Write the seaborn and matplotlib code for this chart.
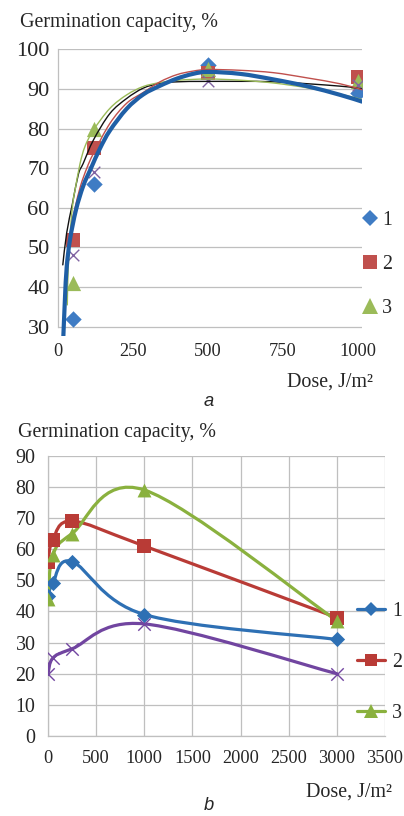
import numpy as np
import matplotlib
matplotlib.use("Agg")
import matplotlib.pyplot as plt
from matplotlib.path import Path
from matplotlib.patches import PathPatch
from matplotlib.lines import Line2D
import seaborn as sns

# ---- chart a: measured points ----
dose_a = [50, 120, 500, 1000]
germ_a1 = [32, 66, 96, 89]
germ_a2 = [52, 75, 94, 93]
germ_a3 = [41, 80, 95, 92]
germ_a4 = [48, 69, 92, 91]

# ---- chart a: trend curves ----
trend_a1_x = [17, 23, 29, 40, 60, 84, 110, 140, 173, 229, 284, 340, 396, 450, 500, 607, 718, 829, 940, 1013]
trend_a1_y = [26, 36.8, 45, 52, 59.5, 65.5, 70, 75, 79.5, 85, 88.6, 90.8, 92.6, 93.8, 94.3, 93.8, 92.4, 90.7, 88.5, 86.8]
trend_a2_x = [20, 27, 34, 45, 57, 75, 96, 118, 173, 229, 284, 340, 396, 450, 500, 607, 718, 829, 940, 1013]
trend_a2_y = [33, 42, 49.4, 55.5, 60, 65.5, 70, 73.7, 81.3, 86.4, 89.1, 91.8, 93.6, 94.5, 94.9, 94.7, 94.1, 92.8, 91.3, 89.8]
trend_a3_x = [31, 34, 42, 50, 57, 73, 90, 118, 173, 229, 284, 340, 400, 500, 607, 718, 829, 940, 1013]
trend_a3_y = [35.5, 45, 55, 61.5, 64.5, 71, 75.5, 79.6, 85.1, 88.5, 90.6, 91.6, 92.2, 92.5, 92.2, 91.5, 90.3, 88.7, 87.3]
trend_a4_x = [16, 29, 48, 68, 84, 118, 173, 229, 284, 340, 400, 500, 718, 940, 1013]
trend_a4_y = [45.6, 53.7, 61, 68.5, 71.2, 77.1, 83.8, 87.6, 90.2, 91.4, 91.8, 91.9, 91.8, 90.7, 90.0]

# ---- chart b ----
dose_b = [0, 50, 250, 1000, 3000]
germ_b1 = [45, 49, 56, 39, 31]
germ_b2 = [56, 63, 69, 61, 38]
germ_b3 = [44, 58, 65, 79, 37]
germ_b4 = [20, 25, 28, 36, 20]

labels = ["1", "2", "3"]

W, H = 404, 816
FS = 13.2
FS_T = 14.4
GRID = "#BFBFBF"
TXT = "#262626"


def smooth_path(x, y):
    # Excel-like smoothed line: Catmull-Rom segments as cubic Bezier
    p = np.column_stack([x, y]).astype(float)
    ext = np.vstack([p[0], p, p[-1]])
    verts = [p[0]]
    codes = [Path.MOVETO]
    for i in range(len(p) - 1):
        c1 = ext[i + 1] + (ext[i + 2] - ext[i]) / 6
        c2 = ext[i + 2] - (ext[i + 3] - ext[i + 1]) / 6
        verts += [c1, c2, p[i + 1]]
        codes += [Path.CURVE4] * 3
    return Path(verts, codes)


def add_curve(ax, x, y, color, lw, z):
    ax.add_patch(PathPatch(smooth_path(x, y), facecolor="none", edgecolor=color,
                           lw=lw, zorder=z, capstyle="round", joinstyle="round"))


def fx(px):
    return px / W


def fy(py):
    return 1 - py / H


sns.set_style("white")
plt.rcParams["font.family"] = ["Liberation Serif", "DejaVu Serif"]
plt.rcParams["font.size"] = FS

fig = plt.figure(figsize=(W / 100, H / 100), dpi=100)

# ================= chart a =================
ax1 = fig.add_axes([fx(58), fy(335.8), 304 / W, (335.8 - 49.3) / H])
ax1.set_xlim(0, 1013)
ax1.set_ylim(27.7, 100)

blue_a, red_a, green_a, purple_a = "#3F7CC4", "#C0504D", "#9BBB59", "#8064A2"

sns.scatterplot(x=dose_a, y=germ_a1, ax=ax1, marker="D", s=70, color=blue_a, linewidth=0, zorder=3)
sns.scatterplot(x=dose_a, y=germ_a2, ax=ax1, marker="s", s=110, color=red_a, linewidth=0, zorder=3)
sns.scatterplot(x=dose_a, y=germ_a3, ax=ax1, marker="^", s=120, color=green_a, linewidth=0, zorder=3)
sns.scatterplot(x=dose_a, y=germ_a4, ax=ax1, marker="x", s=70, color=purple_a, linewidth=1.0, zorder=3)

add_curve(ax1, trend_a4_x, trend_a4_y, "#111111", 1.0, 4)
add_curve(ax1, trend_a3_x, trend_a3_y, green_a, 1.0, 4)
add_curve(ax1, trend_a2_x, trend_a2_y, red_a, 1.0, 4)
add_curve(ax1, trend_a1_x, trend_a1_y, "#1F5FA6", 3.0, 5)

ax1.set_yticks(range(30, 101, 10))
ax1.set_xticks([0, 250, 500, 750, 1000])
ax1.set_xlabel("")
ax1.set_ylabel("")
ax1.grid(axis="y", color=GRID, lw=0.9)
ax1.grid(axis="x", visible=False)
for s in ["top", "right", "bottom"]:
    ax1.spines[s].set_visible(False)
ax1.spines["left"].set_bounds(30, 100)
ax1.spines["left"].set_color(GRID)
ax1.spines["left"].set_linewidth(0.9)
ax1.tick_params(axis="both", length=0, colors=TXT)
ax1.tick_params(axis="x", pad=5, labelsize=FS)
ax1.tick_params(axis="y", pad=6, labelsize=16)

h_a = [Line2D([], [], ls="none", marker="D", ms=8, color=blue_a, mew=0),
       Line2D([], [], ls="none", marker="s", ms=10, color=red_a, mew=0),
       Line2D([], [], ls="none", marker="^", ms=11, color=green_a, mew=0)]
fig.legend(h_a, labels, loc="upper left", bbox_to_anchor=(fx(362), fy(211)),
           frameon=False, handlelength=0.8, handletextpad=0.2, labelspacing=1.25,
           borderpad=0, borderaxespad=0, fontsize=FS_T)

fig.text(fx(20), fy(22), "Germination capacity, %", ha="left", va="center", fontsize=FS_T, color=TXT)
fig.text(fx(373), fy(382), "Dose, J/m²", ha="right", va="center", fontsize=FS_T, color=TXT)
fig.text(fx(209), fy(401), "a", ha="center", va="center", fontsize=FS,
         family="Liberation Sans", style="italic", color=TXT)

# ================= chart b =================
ax2 = fig.add_axes([fx(48), fy(736), 337 / W, (736 - 455.7) / H])
ax2.set_xlim(0, 3500)
ax2.set_ylim(0, 90)

blue_b, red_b, green_b, purple_b = "#2E70B4", "#B93B36", "#8AB13E", "#7145A0"

series_b = [(germ_b1, blue_b, "D", 60), (germ_b2, red_b, "s", 95),
            (germ_b3, green_b, "^", 100), (germ_b4, purple_b, "x", 80)]
for vals, col, mk, sz in series_b:
    add_curve(ax2, dose_b, vals, col, 2.3, 3)
    if mk == "x":
        sns.scatterplot(x=dose_b, y=vals, ax=ax2, marker=mk, s=sz, color=col, linewidth=1.0, zorder=4)
    else:
        sns.scatterplot(x=dose_b, y=vals, ax=ax2, marker=mk, s=sz, color=col, linewidth=0, zorder=4)

ax2.set_xticks(range(0, 3501, 500))
ax2.set_yticks(range(0, 91, 10))
ax2.set_xlabel("")
ax2.set_ylabel("")
ax2.grid(True, color=GRID, lw=0.9)
for s in ["top", "right"]:
    ax2.spines[s].set_visible(False)
for s in ["left", "bottom"]:
    ax2.spines[s].set_color(GRID)
    ax2.spines[s].set_linewidth(0.9)
ax2.tick_params(axis="both", direction="out", length=4, width=0.9, color=GRID, labelcolor=TXT)
ax2.tick_params(axis="x", pad=6, labelsize=FS)
ax2.tick_params(axis="y", pad=5, labelsize=14.4)
ax2.set_axisbelow(True)

h_b = [Line2D([], [], color=blue_b, lw=2.3, marker="D", ms=7, mew=0),
       Line2D([], [], color=red_b, lw=2.3, marker="s", ms=9, mew=0),
       Line2D([], [], color=green_b, lw=2.3, marker="^", ms=9.5, mew=0)]
fig.legend(h_b, labels, loc="upper left", bbox_to_anchor=(fx(357), fy(602)),
           frameon=False, handlelength=1.42, handletextpad=0.35, labelspacing=1.6,
           borderpad=0, borderaxespad=0, fontsize=FS_T)

fig.text(fx(18), fy(432), "Germination capacity, %", ha="left", va="center", fontsize=FS_T, color=TXT)
fig.text(fx(392), fy(792), "Dose, J/m²", ha="right", va="center", fontsize=FS_T, color=TXT)
fig.text(fx(209), fy(806), "b", ha="center", va="center", fontsize=FS,
         family="Liberation Sans", style="italic", color=TXT)

fig.savefig("out.png", dpi=100)
